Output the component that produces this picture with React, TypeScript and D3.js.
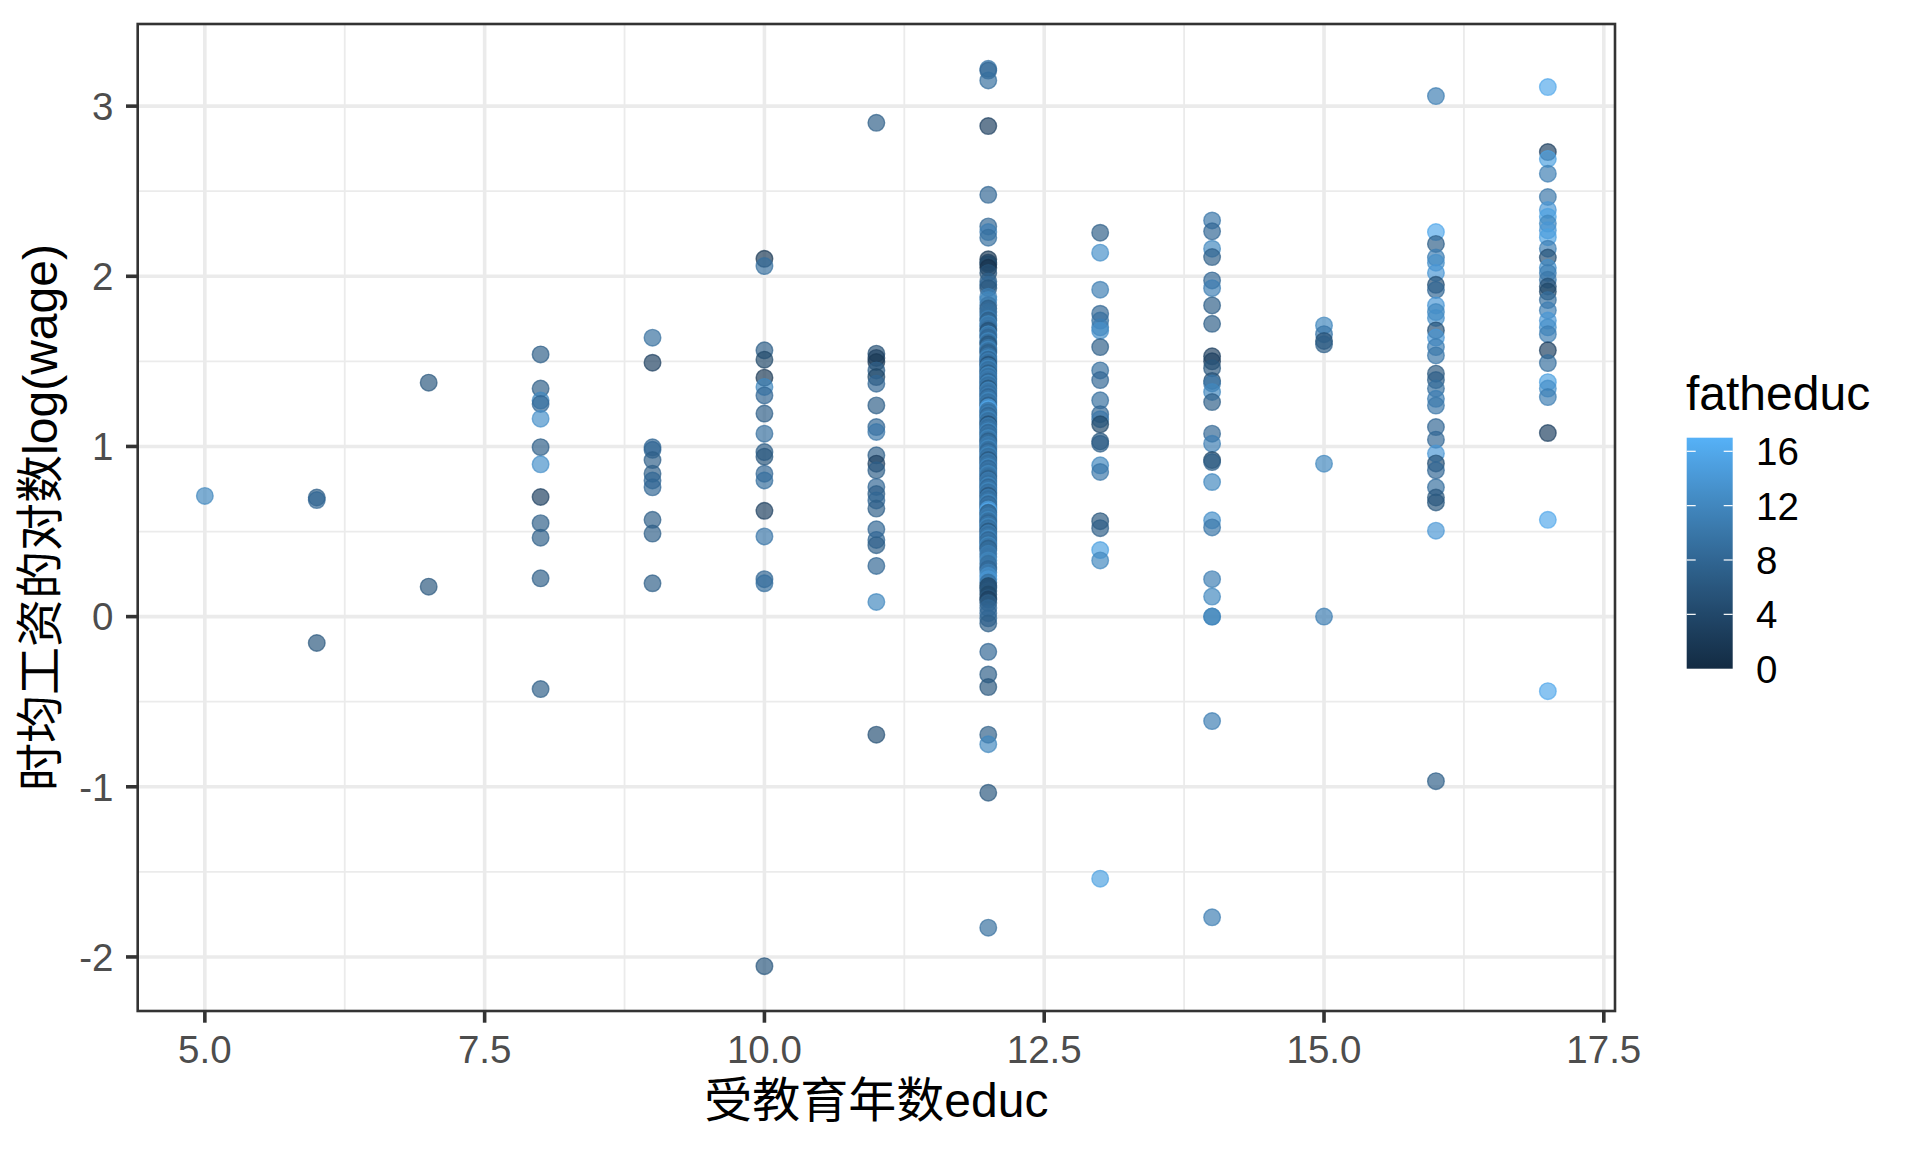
import React from "react";
import * as d3 from "d3";

// ---- data: [lwage, fatheduc] for each years-of-education column ----
const educ5: [number, number][] = [[0.709, 12]];
const educ6: [number, number][] = [[0.700, 7], [0.685, 8], [-0.155, 6]];
const educ7: [number, number][] = [[1.375, 6], [0.176, 6]];
const educ8: [number, number][] = [[1.541, 7], [1.340, 7], [1.270, 12], [1.250, 8], [1.163, 13], [0.996, 7], [0.895, 13], [0.703, 3], [0.549, 7], [0.464, 7], [0.225, 7], [-0.426, 7]];
const educ9: [number, number][] = [[1.639, 9], [1.492, 3], [0.995, 8], [0.980, 8], [0.920, 7], [0.840, 7], [0.800, 8], [0.760, 8], [0.569, 7], [0.488, 7], [0.196, 7]];
const educ10: [number, number][] = [[2.103, 2], [2.060, 9], [1.565, 7], [1.510, 4], [1.404, 2], [1.350, 12], [1.300, 8], [1.193, 7], [1.075, 9], [0.967, 7], [0.940, 6], [0.840, 8], [0.800, 9], [0.622, 3], [0.471, 10], [0.220, 8], [0.196, 9], [-2.054, 6]];
const educ11: [number, number][] = [[2.902, 7], [1.545, 5], [1.520, 3], [1.496, 2], [1.447, 7], [1.408, 4], [1.369, 8], [1.241, 7], [1.114, 8], [1.085, 10], [0.948, 7], [0.899, 3], [0.860, 7], [0.762, 8], [0.720, 7], [0.683, 8], [0.635, 7], [0.513, 8], [0.451, 8], [0.420, 7], [0.298, 8], [0.086, 12], [-0.694, 5]];
const educ12: [number, number][] = [
  [3.219, 10], [3.209, 8], [3.151, 9], [2.883, 3], [2.479, 8], [2.293, 8], [2.260, 11], [2.227, 9],
  [2.100, 2], [2.080, 3], [2.070, 4], [2.050, 1], [2.020, 5], [1.970, 7], [1.950, 8], [1.930, 6], [1.880, 11], [1.860, 12], [1.830, 10], [1.810, 7], [1.790, 9],
  [1.770, 9], [1.750, 11], [1.740, 7], [1.720, 12], [1.710, 10], [1.690, 9], [1.680, 5], [1.660, 12], [1.650, 10], [1.640, 8], [1.620, 12], [1.610, 9], [1.600, 6],
  [1.580, 10], [1.570, 12], [1.560, 9], [1.550, 7], [1.530, 10], [1.520, 12], [1.510, 8], [1.500, 11], [1.490, 9], [1.480, 5], [1.470, 10], [1.460, 12], [1.450, 9],
  [1.440, 10], [1.430, 7], [1.420, 12], [1.410, 9], [1.400, 11], [1.390, 10], [1.380, 8], [1.370, 12], [1.360, 9], [1.350, 10], [1.340, 6], [1.330, 12], [1.320, 10],
  [1.310, 9], [1.300, 11], [1.290, 8], [1.280, 10], [1.270, 12], [1.260, 9], [1.250, 10], [1.240, 7], [1.230, 14], [1.220, 16], [1.210, 10], [1.200, 9], [1.190, 11],
  [1.180, 8], [1.170, 10], [1.160, 12], [1.150, 9], [1.140, 10], [1.130, 5], [1.120, 11], [1.110, 9], [1.100, 10], [1.090, 12], [1.080, 8], [1.070, 10], [1.060, 9],
  [1.050, 12], [1.040, 10], [1.030, 7], [1.020, 9], [1.010, 11], [1.000, 10], [0.990, 12], [0.980, 9], [0.970, 8], [0.960, 10], [0.950, 12], [0.940, 9], [0.930, 10],
  [0.920, 6], [0.910, 11], [0.900, 9], [0.890, 10], [0.880, 12], [0.870, 8], [0.860, 10], [0.850, 9], [0.840, 12], [0.830, 10], [0.820, 9], [0.810, 7], [0.800, 11],
  [0.790, 10], [0.780, 9], [0.770, 12], [0.760, 8], [0.750, 10], [0.740, 12], [0.730, 9], [0.720, 10], [0.710, 6], [0.700, 11], [0.690, 9], [0.680, 10], [0.670, 12],
  [0.660, 8], [0.650, 10], [0.640, 9], [0.630, 14], [0.620, 16], [0.610, 7], [0.600, 9], [0.590, 11], [0.580, 10], [0.570, 12], [0.560, 9], [0.550, 8], [0.540, 10],
  [0.530, 12], [0.520, 9], [0.510, 10], [0.500, 6], [0.490, 11], [0.480, 9], [0.470, 10], [0.460, 12], [0.450, 8], [0.440, 10], [0.430, 9], [0.420, 12], [0.410, 10],
  [0.400, 7], [0.390, 9], [0.370, 11], [0.350, 10], [0.330, 12], [0.310, 9], [0.290, 10], [0.280, 8], [0.260, 11], [0.240, 13], [0.220, 14], [0.200, 9], [0.180, 4],
  [0.170, 5], [0.150, 6], [0.130, 4], [0.110, 6], [0.100, 3], [0.080, 7], [0.050, 8], [0.020, 8], [-0.010, 8], [-0.040, 7], [-0.207, 8], [-0.340, 7], [-0.414, 6],
  [-0.694, 7], [-0.750, 12], [-1.035, 6], [-1.828, 9]
];
const educ13: [number, number][] = [[2.256, 7], [2.139, 13], [1.921, 11], [1.780, 8], [1.740, 9], [1.700, 11], [1.680, 13], [1.584, 7], [1.447, 9], [1.390, 8], [1.271, 9], [1.190, 8], [1.160, 10], [1.130, 4], [1.030, 6], [1.016, 7], [0.889, 12], [0.850, 10], [0.561, 6], [0.520, 7], [0.391, 15], [0.330, 12], [-1.540, 15]];
const educ14: [number, number][] = [[2.328, 10], [2.264, 8], [2.162, 12], [2.113, 7], [1.976, 8], [1.930, 11], [1.829, 7], [1.721, 7], [1.530, 3], [1.500, 3], [1.460, 6], [1.385, 5], [1.370, 10], [1.320, 12], [1.261, 7], [1.075, 8], [1.016, 11], [0.920, 4], [0.908, 7], [0.791, 12], [0.566, 13], [0.524, 10], [0.220, 11], [0.118, 12], [0.000, 11], [0.000, 12], [-0.614, 11], [-1.767, 11]];
const educ15: [number, number][] = [[1.711, 12], [1.660, 10], [1.620, 5], [1.600, 7], [0.899, 12], [0.000, 11]];
const educ16: [number, number][] = [[3.059, 11], [2.260, 16], [2.190, 7], [2.110, 11], [2.080, 13], [2.020, 14], [1.950, 5], [1.920, 8], [1.829, 14], [1.790, 12], [1.755, 13], [1.682, 5], [1.640, 14], [1.584, 11], [1.535, 10], [1.428, 6], [1.390, 7], [1.340, 9], [1.280, 11], [1.240, 10], [1.114, 8], [1.040, 8], [0.958, 14], [0.900, 5], [0.860, 8], [0.760, 9], [0.700, 6], [0.671, 6], [0.505, 14], [-0.967, 7]];
const educ17: [number, number][] = [[3.112, 16], [2.730, 3], [2.690, 15], [2.603, 11], [2.466, 10], [2.390, 14], [2.350, 15], [2.310, 12], [2.270, 14], [2.230, 15], [2.162, 11], [2.110, 5], [2.050, 13], [2.020, 11], [1.980, 10], [1.940, 5], [1.910, 4], [1.860, 9], [1.800, 11], [1.740, 14], [1.700, 13], [1.660, 11], [1.565, 3], [1.490, 9], [1.378, 15], [1.340, 13], [1.290, 11], [1.079, 3], [0.569, 16], [-0.438, 16]];

const educLevels = [5, 6, 7, 8, 9, 10, 11, 12, 13, 14, 15, 16, 17];
const columns = [educ5, educ6, educ7, educ8, educ9, educ10, educ11, educ12, educ13, educ14, educ15, educ16, educ17];

const xTicks = [5.0, 7.5, 10.0, 12.5, 15.0, 17.5];
const xMinor = [6.25, 8.75, 11.25, 13.75, 16.25];
const yTicks = [-2, -1, 0, 1, 2, 3];
const yMinor = [-1.5, -0.5, 0.5, 1.5, 2.5];
const legendTicks = [0, 4, 8, 12, 16];
const fathDomain = [0, 17];

const xTitle = "受教育年数educ";
const yTitle = "时均工资的对数log(wage)";
const legendTitle = "fatheduc";

type Pt = { educ: number; lwage: number; fath: number };
const points: Pt[] = [];
columns.forEach((col, i) => col.forEach(([lw, f]) => points.push({ educ: educLevels[i], lwage: lw, fath: f })));

const W = 1920, H = 1152;
const panel = { left: 137.7, right: 1615, top: 24, bottom: 1011 };
const FONT = "'Liberation Sans', Arial, 'Noto Sans CJK SC', sans-serif";

function expand(ext: [number, number]): [number, number] {
  const r = ext[1] - ext[0];
  return [ext[0] - r * 0.05, ext[1] + r * 0.05];
}

export default function App() {
  const x = d3.scaleLinear().domain(expand(d3.extent(points, d => d.educ) as [number, number])).range([panel.left, panel.right]);
  const y = d3.scaleLinear().domain(expand(d3.extent(points, d => d.lwage) as [number, number])).range([panel.bottom, panel.top]);
  const color = d3.scaleLinear<string>().domain(fathDomain).range(["#132B43", "#56B1F7"]).interpolate(d3.interpolateLab);

  const bar = { x: 1686.7, w: 46, top: 437.7, bottom: 668.7 };
  const ly = d3.scaleLinear().domain(fathDomain).range([bar.bottom, bar.top]);
  const stops = d3.range(0, 1.0001, 0.05);

  const gridMajor = "#EBEBEB";
  return (
    <svg width={W} height={H} style={{ position: "absolute", left: 0, top: 0, background: "#fff" }} fontFamily={FONT}>
      <defs>
        <linearGradient id="fg" x1="0" y1="1" x2="0" y2="0">
          {stops.map(s => (
            <stop key={s} offset={s} stopColor={color(fathDomain[0] + s * (fathDomain[1] - fathDomain[0]))} />
          ))}
        </linearGradient>
        <clipPath id="pc">
          <rect x={panel.left} y={panel.top} width={panel.right - panel.left} height={panel.bottom - panel.top} />
        </clipPath>
      </defs>
      <rect x={0} y={0} width={W} height={H} fill="#fff" />
      <g clipPath="url(#pc)">
        {xMinor.map(v => <line key={"xm" + v} x1={x(v)} x2={x(v)} y1={panel.top} y2={panel.bottom} stroke={gridMajor} strokeWidth={1.8} />)}
        {yMinor.map(v => <line key={"ym" + v} y1={y(v)} y2={y(v)} x1={panel.left} x2={panel.right} stroke={gridMajor} strokeWidth={1.8} />)}
        {xTicks.map(v => <line key={"xg" + v} x1={x(v)} x2={x(v)} y1={panel.top} y2={panel.bottom} stroke={gridMajor} strokeWidth={3.6} />)}
        {yTicks.map(v => <line key={"yg" + v} y1={y(v)} y2={y(v)} x1={panel.left} x2={panel.right} stroke={gridMajor} strokeWidth={3.6} />)}
        {points.map((p, i) => (
          <circle key={i} cx={x(p.educ)} cy={y(p.lwage)} r={8.3} fill={color(p.fath)} fillOpacity={0.68}
            stroke={color(p.fath)} strokeOpacity={0.68} strokeWidth={1.4} />
        ))}
      </g>
      <rect x={panel.left} y={panel.top} width={panel.right - panel.left} height={panel.bottom - panel.top} fill="none" stroke="#333333" strokeWidth={2.6} />
      {xTicks.map(v => (
        <g key={"xt" + v}>
          <line x1={x(v)} x2={x(v)} y1={panel.bottom} y2={panel.bottom + 11.7} stroke="#333333" strokeWidth={3.6} />
          <text x={x(v)} y={1063} textAnchor="middle" fontSize={38.5} fill="#4D4D4D">{v.toFixed(1)}</text>
        </g>
      ))}
      {yTicks.map(v => (
        <g key={"yt" + v}>
          <line x1={panel.left - 11.7} x2={panel.left} y1={y(v)} y2={y(v)} stroke="#333333" strokeWidth={3.6} />
          <text x={113.5} y={y(v)} dy="0.36em" textAnchor="end" fontSize={38.5} fill="#4D4D4D">{v}</text>
        </g>
      ))}
      <text x={(panel.left + panel.right) / 2} y={1117} textAnchor="middle" fontSize={48} fill="#000">{xTitle}</text>
      <text transform={`translate(57, ${(panel.top + panel.bottom) / 2}) rotate(-90)`} textAnchor="middle" fontSize={48} fill="#000">{yTitle}</text>

      <text x={1686} y={409.5} fontSize={48} fill="#000">{legendTitle}</text>
      <rect x={bar.x} y={bar.top} width={bar.w} height={bar.bottom - bar.top} fill="url(#fg)" />
      {legendTicks.map(v => (
        <g key={"lt" + v}>
          {v > 0 && <line x1={bar.x} x2={bar.x + 9} y1={ly(v)} y2={ly(v)} stroke="#fff" strokeWidth={1.2} />}
          {v > 0 && <line x1={bar.x + bar.w - 9} x2={bar.x + bar.w} y1={ly(v)} y2={ly(v)} stroke="#fff" strokeWidth={1.2} />}
          <text x={1756} y={ly(v)} dy="0.36em" fontSize={38.5} fill="#000">{v}</text>
        </g>
      ))}
    </svg>
  );
}
